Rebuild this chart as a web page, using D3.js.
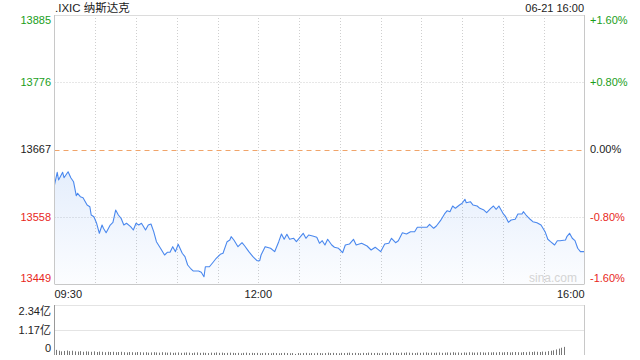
<!DOCTYPE html>
<html><head><meta charset="utf-8">
<script src="https://cdn.jsdelivr.net/npm/d3@7"></script>
<style>
html,body{margin:0;padding:0;background:#fff;}
svg{display:block;font-family:"Liberation Sans",Arial,sans-serif;}
</style></head>
<body><svg id="c" width="640" height="360"></svg>
<script>
const title = ".IXIC 纳斯达克";
const stamp = "06-21 16:00";
const prevClose = 13667;
const priceTicks = [13885, 13776, 13667, 13558, 13449];
const pctTicks = ["+1.60%", "+0.80%", "0.00%", "-0.80%", "-1.60%"];
const timeLabels = ["09:30", "12:00", "16:00"];
const volTicks = [2.34, 1.17, 0];
const volTickLabels = ["2.34亿", "1.17亿", "0"];

const times = ["09:30","09:32","09:33","09:36","09:37","09:40","09:42","09:44","09:46","09:47","09:49","09:51","09:54","09:56","09:57","09:59","10:01","10:03","10:05","10:06","10:08","10:11","10:13","10:15","10:17","10:19","10:21","10:23","10:26","10:28","10:30","10:32","10:34","10:37","10:39","10:41","10:43","10:45","10:48","10:51","10:53","10:55","10:57","10:59","11:01","11:04","11:06","11:08","11:10","11:12","11:16","11:18","11:20","11:21","11:24","11:27","11:29","11:32","11:34","11:37","11:39","11:40","11:42","11:45","11:48","11:50","11:53","11:56","11:59","12:01","12:02","12:05","12:09","12:12","12:15","12:17","12:19","12:21","12:23","12:26","12:28","12:31","12:33","12:35","12:37","12:40","12:43","12:45","12:47","12:49","12:51","12:54","12:56","12:59","13:02","13:04","13:07","13:10","13:12","13:16","13:20","13:23","13:26","13:28","13:30","13:33","13:36","13:38","13:41","13:43","13:46","13:49","13:52","13:55","13:57","14:00","14:04","14:06","14:09","14:11","14:14","14:17","14:19","14:21","14:23","14:25","14:28","14:30","14:32","14:33","14:36","14:38","14:41","14:43","14:46","14:48","14:51","14:53","14:55","14:57","15:00","15:02","15:04","15:06","15:09","15:11","15:14","15:15","15:17","15:20","15:22","15:25","15:28","15:31","15:33","15:35","15:38","15:40","15:42","15:46","15:47","15:49","15:51","15:53","15:55","15:57","15:59","16:00"];
const prices = [13609.5,13630.1,13617.6,13630.1,13621.3,13631.0,13621.3,13614.8,13592.1,13596.0,13590.5,13588.9,13577.0,13574.3,13560.8,13558.1,13547.4,13531.2,13544.6,13539.3,13532.1,13544.6,13549.0,13568.9,13560.8,13555.5,13544.6,13547.4,13541.9,13536.5,13547.4,13544.6,13547.4,13536.5,13544.6,13546.3,13533.8,13517.6,13506.9,13496.0,13500.4,13500.4,13509.5,13501.4,13513.4,13498.8,13493.3,13479.8,13474.5,13470.1,13470.1,13468.0,13460.8,13477.0,13477.0,13485.1,13490.7,13497.1,13498.8,13517.6,13520.3,13525.7,13520.3,13509.5,13515.9,13510.6,13501.4,13493.3,13486.8,13486.8,13496.0,13509.5,13506.9,13501.4,13517.6,13530.0,13521.5,13529.6,13521.5,13523.1,13517.6,13525.7,13531.2,13523.1,13528.4,13526.8,13524.7,13515.0,13519.2,13512.2,13521.5,13512.2,13508.5,13506.9,13499.7,13512.2,13513.8,13521.5,13512.2,13515.0,13510.6,13504.1,13508.5,13505.2,13501.4,13513.8,13515.0,13523.1,13515.9,13519.2,13532.1,13530.0,13533.8,13533.8,13540.9,13540.9,13540.9,13545.8,13539.3,13543.0,13551.6,13562.5,13567.8,13566.2,13575.4,13571.7,13577.0,13579.8,13586.3,13580.8,13582.4,13577.0,13575.4,13571.7,13568.9,13564.6,13571.7,13575.4,13570.1,13575.4,13563.6,13558.1,13549.0,13552.7,13553.9,13562.5,13562.5,13566.2,13560.8,13553.9,13550.0,13548.4,13544.6,13533.8,13521.5,13517.6,13512.2,13519.2,13519.2,13520.3,13525.7,13531.2,13523.1,13519.2,13506.9,13501.4,13501.4,13501.4,13501.4];

// volume every 2 minutes, in 亿 shares
const volumes = [0.24,0.20,0.17,0.19,0.21,0.18,0.20,0.17,0.16,0.18,0.15,0.17,0.16,0.15,0.17,0.14,0.16,0.15,0.13,0.15,
0.14,0.15,0.13,0.14,0.15,0.13,0.12,0.14,0.13,0.12,0.14,0.13,0.12,0.13,0.11,0.12,0.13,0.12,0.11,0.13,
0.12,0.11,0.12,0.10,0.11,0.12,0.10,0.11,0.12,0.11,0.09,0.11,0.12,0.10,0.11,0.10,0.09,0.11,0.10,0.12,
0.10,0.11,0.09,0.10,0.11,0.10,0.09,0.10,0.08,0.10,0.11,0.09,0.10,0.09,0.10,0.08,0.09,0.10,0.09,0.08,
0.10,0.09,0.08,0.09,0.10,0.09,0.08,0.09,0.05,0.09,0.08,0.09,0.10,0.08,0.09,0.08,0.10,0.09,0.08,0.09,
0.11,0.09,0.10,0.09,0.08,0.10,0.09,0.10,0.11,0.09,0.10,0.09,0.08,0.10,0.09,0.11,0.10,0.09,0.10,0.08,
0.10,0.11,0.09,0.10,0.12,0.10,0.09,0.11,0.10,0.12,0.11,0.10,0.09,0.11,0.10,0.11,0.12,0.10,0.11,0.10,
0.11,0.12,0.10,0.11,0.12,0.11,0.13,0.11,0.12,0.10,0.12,0.11,0.13,0.12,0.11,0.12,0.13,0.12,0.11,0.13,
0.12,0.13,0.12,0.14,0.12,0.13,0.14,0.12,0.13,0.14,0.13,0.12,0.14,0.13,0.15,0.14,0.16,0.15,0.14,0.16,
0.15,0.18,0.20,0.22,0.26,0.30,0.34,0.38];

const W = 640, H = 360;
const plot = {left: 54.5, right: 584.5, top: 15, bottom: 284};
const vol = {top: 305, bottom: 355};

const svg = d3.select("#c");
const parseT = s => { const [h, m] = s.split(":").map(Number); return h * 60 + m; };

const x = d3.scaleLinear().domain([parseT("09:30"), parseT("16:00")]).range([plot.left, plot.right]);
const y = d3.scaleLinear().domain([priceTicks[4], priceTicks[0]]).range([plot.bottom, plot.top]);
const yv = d3.scaleLinear().domain([0, volTicks[0]]).range([vol.bottom, vol.top]);

const green = "#1a9e1a", red = "#e8271c", dark = "#222";
const colorFor = v => v > prevClose ? green : (v < prevClose ? red : dark);

// gradient
const defs = svg.append("defs");
const g = defs.append("linearGradient").attr("id", "fillg").attr("x1", 0).attr("y1", 0).attr("x2", 0).attr("y2", 1);
g.append("stop").attr("offset", "0%").attr("stop-color", "#5b95ee").attr("stop-opacity", 0.16);
g.append("stop").attr("offset", "100%").attr("stop-color", "#5b95ee").attr("stop-opacity", 0.02);

// vertical grid every 30 minutes
const gridTimes = d3.range(parseT("10:00"), parseT("16:00"), 30);
svg.append("g").selectAll("line").data(gridTimes).join("line")
  .attr("x1", d => Math.round(x(d)) + 0.5).attr("x2", d => Math.round(x(d)) + 0.5)
  .attr("y1", plot.top).attr("y2", plot.bottom)
  .attr("stroke", "#cfcfcf").attr("stroke-dasharray", "1,2");

// horizontal grid
svg.append("g").selectAll("line").data([priceTicks[1], priceTicks[3]]).join("line")
  .attr("x1", plot.left).attr("x2", plot.right)
  .attr("y1", d => Math.round(y(d)) + 0.5).attr("y2", d => Math.round(y(d)) + 0.5)
  .attr("stroke", "#cfcfcf").attr("stroke-dasharray", "1,2");
// zero line
svg.append("line").attr("x1", plot.left).attr("x2", plot.right)
  .attr("y1", Math.round(y(prevClose)) + 0.5).attr("y2", Math.round(y(prevClose)) + 0.5)
  .attr("stroke", "#f0a46a").attr("stroke-dasharray", "5,4");

// area + line
const data = times.map((t, i) => ({t: parseT(t), p: prices[i]})).filter(d => d.p !== undefined);
svg.append("path").datum(data)
  .attr("d", d3.area().x(d => x(d.t)).y0(plot.bottom).y1(d => y(d.p)))
  .attr("fill", "url(#fillg)");
svg.append("path").datum(data)
  .attr("d", d3.line().x(d => x(d.t)).y(d => y(d.p)))
  .attr("fill", "none").attr("stroke", "#4a88ee").attr("stroke-width", 1.1).attr("stroke-linejoin", "round");

// borders
const border = "#c8c8c8";
svg.append("line").attr("x1", plot.left).attr("x2", plot.right).attr("y1", plot.top + 0.5).attr("y2", plot.top + 0.5).attr("stroke", "#dcdcdc");
svg.append("line").attr("x1", plot.left).attr("x2", plot.right).attr("y1", plot.bottom + 0.5).attr("y2", plot.bottom + 0.5).attr("stroke", border);
svg.append("line").attr("x1", plot.left).attr("x2", plot.left).attr("y1", plot.top).attr("y2", plot.bottom).attr("stroke", border);
svg.append("line").attr("x1", plot.right).attr("x2", plot.right).attr("y1", plot.top).attr("y2", plot.bottom).attr("stroke", border);

// watermark
svg.append("text").attr("x", 577).attr("y", 282).attr("text-anchor", "end")
  .attr("font-size", 12).attr("fill", "#d4d4d4").text("sina.com");

// left price labels
const yLabelPos = (v, i) => i === 0 ? y(v) + 5 : (i === priceTicks.length - 1 ? y(v) - 6 : y(v));
svg.append("g").selectAll("text").data(priceTicks).join("text")
  .attr("x", 51).attr("y", (d, i) => yLabelPos(d, i)).attr("dy", "0.35em")
  .attr("text-anchor", "end").attr("font-size", 11)
  .attr("fill", d => colorFor(d)).text(d => d);
// right pct labels
svg.append("g").selectAll("text").data(pctTicks).join("text")
  .attr("x", 590).attr("y", (d, i) => yLabelPos(priceTicks[i], i)).attr("dy", "0.35em")
  .attr("text-anchor", "start").attr("font-size", 11)
  .attr("fill", (d, i) => colorFor(priceTicks[i])).text(d => d);

// title + stamp
svg.append("text").attr("x", 55).attr("y", 8).attr("dy", "0.35em").attr("font-size", 11.5).attr("fill", dark)
  .style("font-family", "'Liberation Sans','Noto Sans CJK SC',sans-serif").text(title);
svg.append("text").attr("x", 584).attr("y", 8).attr("dy", "0.35em").attr("text-anchor", "end").attr("font-size", 11).attr("fill", dark).text(stamp);

// time labels
svg.append("g").selectAll("text").data(timeLabels).join("text")
  .attr("x", d => x(parseT(d))).attr("y", 294).attr("dy", "0.35em")
  .attr("text-anchor", (d, i) => i === 0 ? "start" : (i === timeLabels.length - 1 ? "end" : "middle"))
  .attr("font-size", 11).attr("fill", dark).text(d => d);

// volume panel
svg.append("g").selectAll("line").data([volTicks[0], volTicks[1]]).join("line")
  .attr("x1", plot.left).attr("x2", plot.right)
  .attr("y1", d => Math.round(yv(d)) + 0.5).attr("y2", d => Math.round(yv(d)) + 0.5)
  .attr("stroke", "#c8c8c8").attr("stroke-dasharray", "1,1");
svg.append("line").attr("x1", plot.left).attr("x2", plot.left).attr("y1", vol.top).attr("y2", vol.bottom).attr("stroke", "#999");
svg.append("line").attr("x1", plot.right).attr("x2", plot.right).attr("y1", vol.top).attr("y2", vol.bottom).attr("stroke", border);

const volX = i => x(parseT("09:30") + i * 2 + 1);
svg.append("g").selectAll("rect").data(volumes).join("rect")
  .attr("x", (d, i) => Math.round(volX(i)))
  .attr("width", 1)
  .attr("y", d => yv(d)).attr("height", d => vol.bottom - yv(d))
  .attr("fill", "#777");

const vLabelPos = (v, i) => i === 0 ? yv(v) + 6 : (i === volTicks.length - 1 ? yv(v) - 7 : yv(v));
svg.append("g").selectAll("text").data(volTickLabels).join("text")
  .attr("x", 51).attr("y", (d, i) => vLabelPos(volTicks[i], i)).attr("dy", "0.35em")
  .attr("text-anchor", "end").attr("font-size", 11).attr("fill", dark)
  .style("font-family", "'Liberation Sans','Noto Sans CJK SC',sans-serif").text(d => d);
</script>
</body></html>
